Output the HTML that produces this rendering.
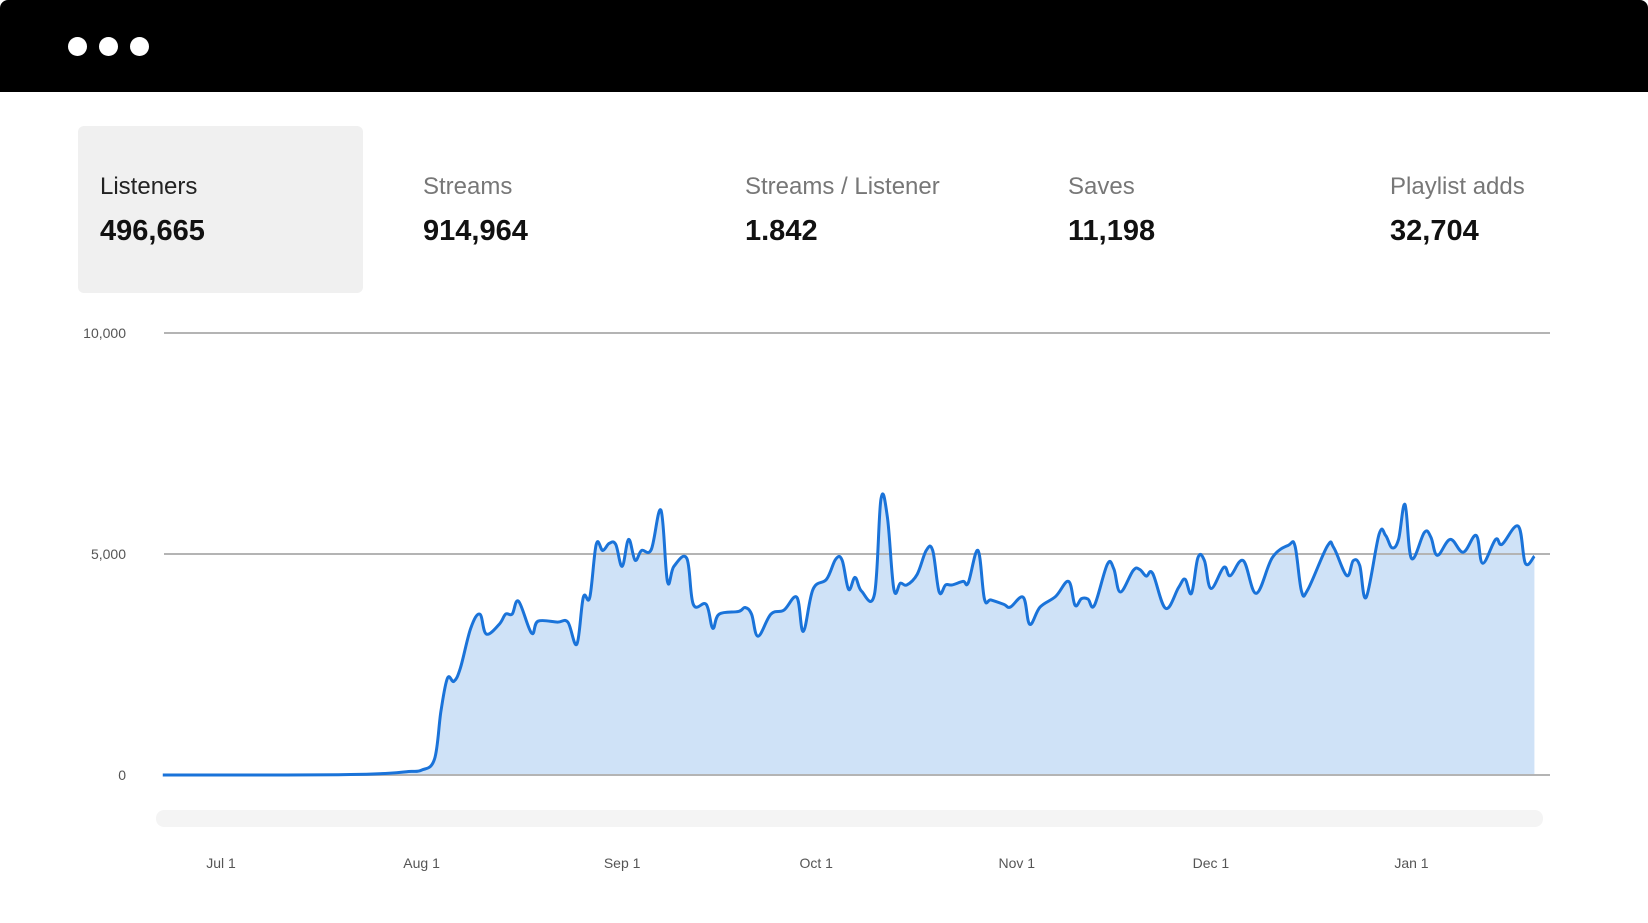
<!DOCTYPE html>
<html><head><meta charset="utf-8">
<style>
body{margin:0;width:1648px;height:923px;background:#fff;font-family:"Liberation Sans",sans-serif;position:relative;overflow:hidden}
.topbar{position:absolute;left:0;top:0;width:1648px;height:92px;background:#000;border-radius:8px 8px 0 0}
.dot{position:absolute;top:37px;width:19px;height:19px;border-radius:50%;background:#fff}
.tile{position:absolute;top:126px;height:167px;width:285px}
.tile.active{background:#f0f0f0;border-radius:6px}
.lbl{position:absolute;top:173px;font-size:24px;color:#777;white-space:nowrap}
.val{position:absolute;top:215px;font-size:29px;font-weight:bold;color:#111;white-space:nowrap}
</style></head><body>
<div class="topbar">
<div class="dot" style="left:68px"></div>
<div class="dot" style="left:99px"></div>
<div class="dot" style="left:130px"></div>
</div>
<div class="tile active" style="left:78px"></div>
<div class="lbl" style="left:100px;color:#222">Listeners</div>
<div class="val" style="left:100px">496,665</div>
<div class="lbl" style="left:423px">Streams</div>
<div class="val" style="left:423px">914,964</div>
<div class="lbl" style="left:745px">Streams / Listener</div>
<div class="val" style="left:745px">1.842</div>
<div class="lbl" style="left:1068px">Saves</div>
<div class="val" style="left:1068px">11,198</div>
<div class="lbl" style="left:1390px">Playlist adds</div>
<div class="val" style="left:1390px">32,704</div>

<svg id="chart" width="1648" height="923" style="position:absolute;left:0;top:0"></svg>
<script>
// day offsets from Jul 1
const days=[-9,10,20,26,29,31,33,34,35,36,37,38.6,40,41,43,44,45,46,48,49,52,53.6,55,56,57,58,59,60,61,62,63,64,65,66.5,68,69,70,72,73,75,76,77,80,81,82,83,85,87,89,90,91.5,93.6,95,96,97,98,99,101,102,103,104,105,106,107.6,109,110,111,112,113,114.7,115.5,117,118,119,121,122,124,125,126.6,129,131,132,133,134,135,137,138,139,141,142,143,144,146,148,149,150,151,152,153,155,156,158,160,162.5,165,166,167,168,171,172,174,175,176,177,179,180,181,182,183,184,186,187,188,190,192,194,195,197,198,200.5,201.6,203];
const listeners=[0,0,10,40,80,110,360,1450,2190,2120,2420,3320,3640,3190,3410,3640,3640,3930,3210,3480,3460,3460,2960,4020,4020,5220,5080,5240,5220,4720,5330,4860,5080,5100,5990,4380,4720,4900,3860,3860,3320,3640,3700,3790,3640,3140,3640,3730,4020,3250,4200,4430,4880,4860,4200,4470,4160,4090,6240,5830,4200,4340,4300,4540,5080,5080,4140,4300,4300,4380,4350,5080,3980,3960,3860,3800,4020,3410,3800,4040,4380,3840,3990,3980,3840,4770,4660,4140,4630,4650,4500,4560,3770,4240,4430,4110,4920,4850,4220,4700,4510,4850,4110,4920,5200,5180,4160,4200,5180,5140,4510,4850,4740,4020,5450,5420,5140,5330,6120,4900,5490,5380,4970,5330,5040,5420,4790,5330,5220,5630,4790,4950];
const yTicks=[0,5000,10000];
const yTickLabels=["0","5,000","10,000"];
const xTickDays=[0,31,62,92,123,153,184];
const xTickLabels=["Jul 1","Aug 1","Sep 1","Oct 1","Nov 1","Dec 1","Jan 1"];

const svg=document.getElementById('chart');
const NS='http://www.w3.org/2000/svg';
const X=d=>221+d*6.47;
const Y=v=>775-v*(221/5000);
function mk(tag,attrs){const e=document.createElementNS(NS,tag);for(const k in attrs)e.setAttribute(k,attrs[k]);svg.appendChild(e);return e;}

const sb=mk('rect',{x:156,y:810,width:1387,height:17,rx:8,fill:'#f4f4f4'});



const pts=days.map((d,i)=>[X(d),Y(listeners[i])]);
function smooth(p){let s=`M${p[0][0]},${p[0][1]}`;for(let i=0;i<p.length-1;i++){const p0=p[Math.max(0,i-1)],p1=p[i],p2=p[i+1],p3=p[Math.min(p.length-1,i+2)];const t=0.18;const c1=[p1[0]+(p2[0]-p0[0])*t,p1[1]+(p2[1]-p0[1])*t];const c2=[p2[0]-(p3[0]-p1[0])*t,p2[1]-(p3[1]-p1[1])*t];s+=` C${c1[0]},${c1[1]} ${c2[0]},${c2[1]} ${p2[0]},${p2[1]}`;}return s;}
const line=smooth(pts);
const area=mk('path',{d:line+` L${pts[pts.length-1][0]},${Y(0)} L${pts[0][0]},${Y(0)} Z`,fill:'#cfe2f7'});



yTicks.forEach((t,i)=>{
  const g=mk('line',{x1:164,x2:1550,y1:Y(t),y2:Y(t),stroke:'#b4b4b4','stroke-width':2});
  
  
  const tx=mk('text',{x:126,y:Y(t)+5,'text-anchor':'end','font-size':14,fill:'#555','font-family':'Liberation Sans, sans-serif'});
  tx.textContent=yTickLabels[i];
  
  
});

const ln=mk('path',{d:line,fill:'none',stroke:'#1a73d9','stroke-width':3,'stroke-linejoin':'round'});



xTickDays.forEach((d,i)=>{
  const tx=mk('text',{x:X(d),y:868,'text-anchor':'middle','font-size':14,fill:'#555','font-family':'Liberation Sans, sans-serif'});
  tx.textContent=xTickLabels[i];
  
  
});
</script>
</body></html>
